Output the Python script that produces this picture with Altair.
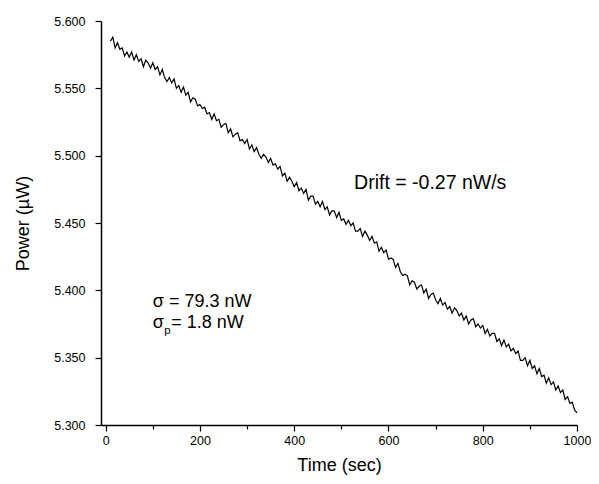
import altair as alt
import pandas as pd

times = list(range(10, 1001, 5))
power = [
    5.585, 5.588, 5.580, 5.584, 5.579, 5.580, 5.574, 5.577, 5.573, 5.577,
    5.571, 5.575, 5.570, 5.572, 5.566, 5.571, 5.569, 5.565, 5.569, 5.564,
    5.566, 5.560, 5.564, 5.558, 5.555, 5.558, 5.554, 5.557, 5.550, 5.552,
    5.547, 5.551, 5.545, 5.547, 5.540, 5.543, 5.542, 5.537, 5.538, 5.535,
    5.536, 5.531, 5.532, 5.527, 5.531, 5.526, 5.527, 5.521, 5.523, 5.524,
    5.517, 5.520, 5.514, 5.516, 5.517, 5.511, 5.512, 5.509, 5.512, 5.505,
    5.508, 5.503, 5.506, 5.501, 5.498, 5.501, 5.499, 5.495, 5.498, 5.493,
    5.494, 5.490, 5.492, 5.485, 5.487, 5.481, 5.484, 5.481, 5.477, 5.480,
    5.474, 5.476, 5.472, 5.475, 5.467, 5.470, 5.470, 5.464, 5.466, 5.462,
    5.466, 5.460, 5.462, 5.456, 5.459, 5.459, 5.454, 5.458, 5.452, 5.453,
    5.449, 5.452, 5.448, 5.450, 5.444, 5.444, 5.446, 5.440, 5.444, 5.441,
    5.437, 5.440, 5.435, 5.436, 5.429, 5.432, 5.428, 5.430, 5.423, 5.424,
    5.423, 5.417, 5.420, 5.414, 5.411, 5.412, 5.411, 5.404, 5.407, 5.406,
    5.401, 5.403, 5.404, 5.398, 5.401, 5.394, 5.397, 5.398, 5.393, 5.390,
    5.394, 5.389, 5.391, 5.386, 5.388, 5.383, 5.387, 5.385, 5.381, 5.383,
    5.378, 5.381, 5.375, 5.378, 5.379, 5.373, 5.375, 5.372, 5.374, 5.368,
    5.371, 5.366, 5.368, 5.368, 5.362, 5.364, 5.359, 5.363, 5.358, 5.360,
    5.355, 5.357, 5.353, 5.355, 5.348, 5.348, 5.350, 5.344, 5.348, 5.342,
    5.344, 5.338, 5.342, 5.336, 5.337, 5.331, 5.335, 5.330, 5.332, 5.326,
    5.329, 5.324, 5.326, 5.319, 5.321, 5.316, 5.317, 5.311, 5.309,
]

x_ticks = [0, 100, 200, 300, 400, 500, 600, 700, 800, 900, 1000]
y_ticks = [5.300, 5.325, 5.350, 5.375, 5.400, 5.425, 5.450, 5.475,
           5.500, 5.525, 5.550, 5.575, 5.600]

notes_text = ["Drift = -0.27 nW/s", "\u03c3 = 79.3 nW", "\u03c3", "= 1.8 nW"]
notes_t = [527, 100, 100, 139]
notes_p = [5.4797, 5.3913, 5.3757, 5.3757]
notes_size = [19.5, 18, 18, 18]
sub_text = ["p"]
sub_t = [124]
sub_p = [5.3700]

FONT = "Liberation Sans"

df = pd.DataFrame({"t": times, "p": power})
notes = pd.DataFrame({"text": notes_text, "t": notes_t, "p": notes_p, "size": notes_size})
subs = pd.DataFrame({"text": sub_text, "t": sub_t, "p": sub_p})

xscale = alt.Scale(domain=[-10, 1000], nice=False, zero=False)
yscale = alt.Scale(domain=[5.3, 5.6], nice=False, zero=False)

xaxis = alt.Axis(
    values=x_ticks,
    labelExpr="datum.value % 200 == 0 ? format(datum.value, 'd') : ''",
    tickSize={"condition": {"test": "datum.value % 200 == 0", "value": 6}, "value": 4},
    grid=False, domainColor="black", tickColor="black", domainWidth=1.5, tickWidth=1.2,
    labelColor="black", labelFont=FONT, labelFontSize=12.5, labelPadding=3,
    titleFont=FONT, titleFontSize=18, titleFontWeight="normal", titleColor="black",
    titlePadding=10, labelFlush=False,
)
yaxis = alt.Axis(
    values=y_ticks,
    labelExpr="round(datum.value * 1000) % 50 == 0 ? format(datum.value, '.3f') : ''",
    tickSize={"condition": {"test": "round(datum.value * 1000) % 50 == 0", "value": 6}, "value": 4},
    grid=False, domainColor="black", tickColor="black", domainWidth=1.5, tickWidth=1.2,
    labelColor="black", labelFont=FONT, labelFontSize=12.5, labelPadding=10,
    titleFont=FONT, titleFontSize=18, titleFontWeight="normal", titleColor="black",
    titlePadding=21, labelFlush=False,
)

line = alt.Chart(df).mark_line(color="black", strokeWidth=1.2).encode(
    x=alt.X("t:Q", scale=xscale, axis=xaxis, title="Time (sec)"),
    y=alt.Y("p:Q", scale=yscale, axis=yaxis, title="Power (\u00b5W)"),
)

text = alt.Chart(notes).mark_text(align="left", baseline="middle", font=FONT, color="black").encode(
    x=alt.X("t:Q", scale=xscale),
    y=alt.Y("p:Q", scale=yscale),
    text="text:N",
    size=alt.Size("size:Q", scale=None, legend=None),
)

subtext = alt.Chart(subs).mark_text(align="left", baseline="middle", font=FONT, color="black", fontSize=11.5).encode(
    x=alt.X("t:Q", scale=xscale),
    y=alt.Y("p:Q", scale=yscale),
    text="text:N",
)

chart = alt.layer(line, text, subtext).properties(
    width=476, height=404,
    autosize=alt.AutoSizeParams(type="none"),
    padding={"left": 93, "top": 13, "right": 14, "bottom": 51},
    background="white",
).configure_view(stroke=None)

chart.save("out.html", embed_options={"renderer": "svg", "actions": False})
